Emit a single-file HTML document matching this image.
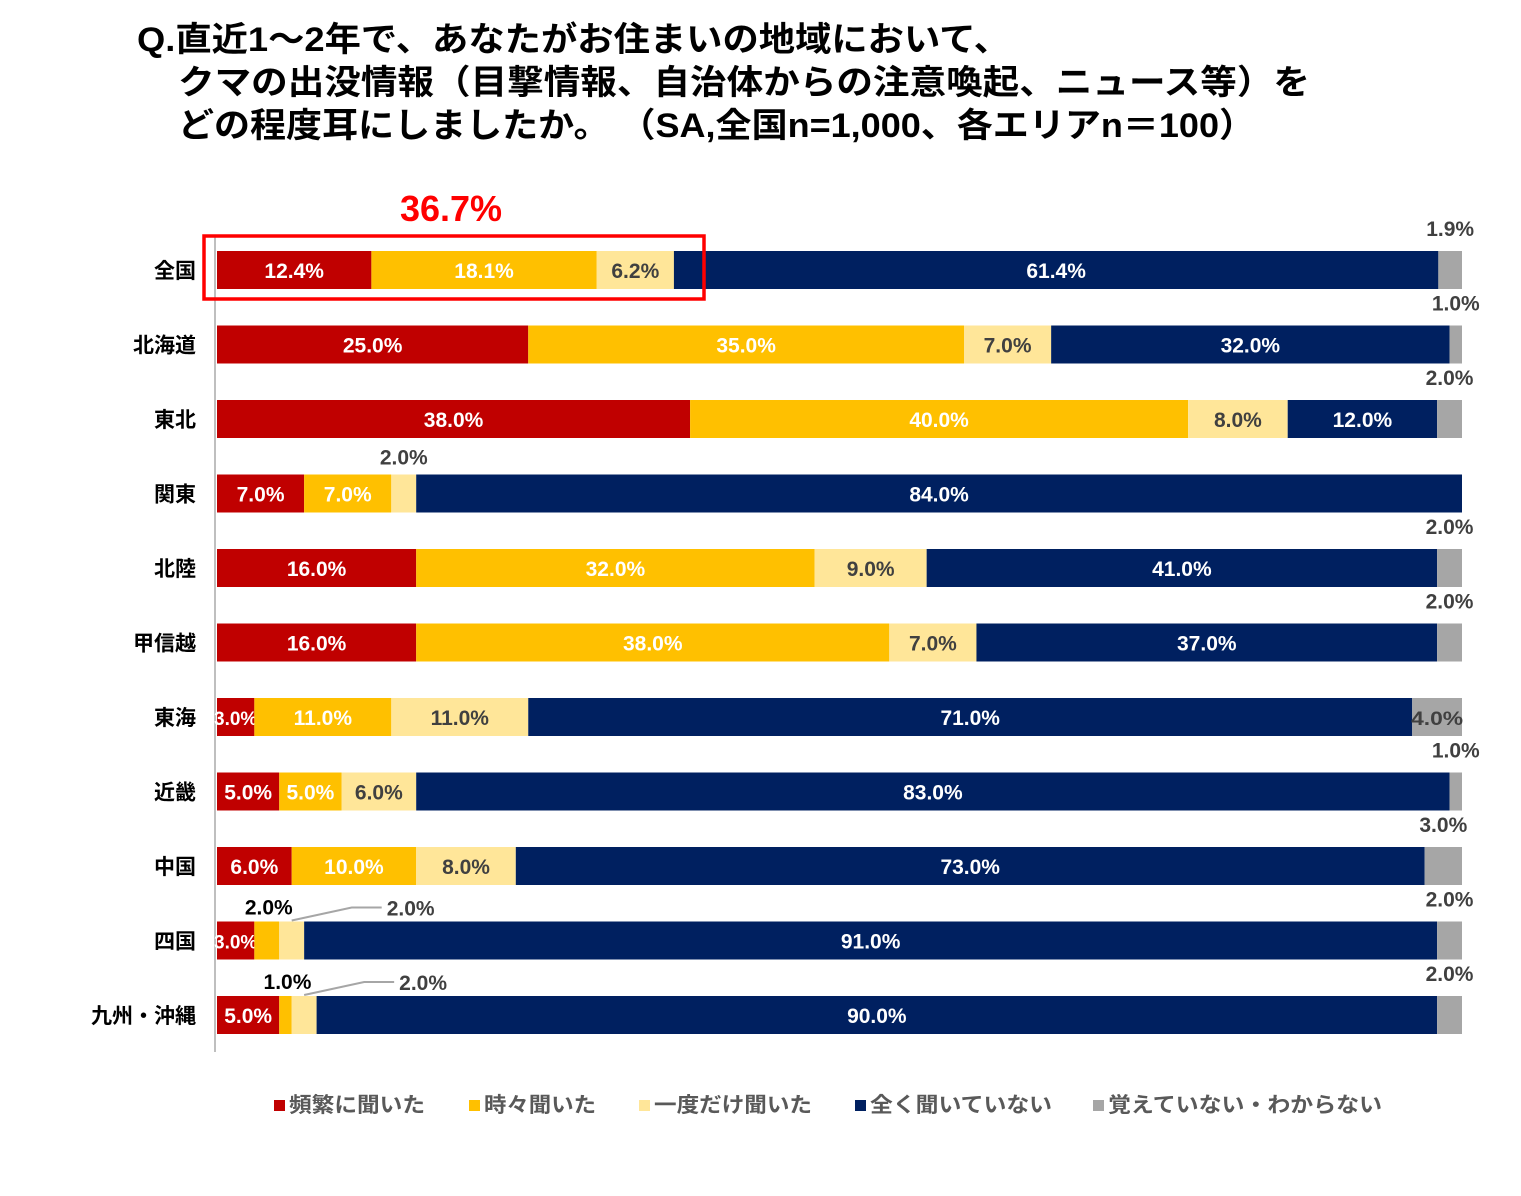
<!DOCTYPE html>
<html><head><meta charset="utf-8">
<style>
html,body{margin:0;padding:0;background:#fff;}
body{width:1521px;height:1191px;overflow:hidden;font-family:"Liberation Sans","Noto Sans CJK JP",sans-serif;}
svg text{font-family:"Liberation Sans","Noto Sans CJK JP",sans-serif;font-weight:bold;}
</style></head>
<body>
<svg id="chart" width="1521" height="1191" xmlns="http://www.w3.org/2000/svg">
<g font-size="34" fill="#000">
<text x="137" y="51" textLength="873" lengthAdjust="spacingAndGlyphs">Q.直近1～2年で、あなたがお住まいの地域において、</text>
<text x="178" y="94" textLength="1132" lengthAdjust="spacingAndGlyphs">クマの出没情報（目撃情報、自治体からの注意喚起、ニュース等）を</text>
<text x="178" y="137" textLength="1077" lengthAdjust="spacingAndGlyphs">どの程度耳にしましたか。 （SA,全国n=1,000、各エリアn＝100）</text>
</g>
<line x1="215" y1="236" x2="215" y2="1052" stroke="#BFBFBF" stroke-width="2"/>
<g id="bars"></g>
<rect x="204" y="236" width="500" height="63" fill="none" stroke="#FF0000" stroke-width="3.5"/>
<text x="451" y="221" text-anchor="middle" font-size="36" fill="#FF0000">36.7%</text>
<g id="legend"></g>
</svg>
<script>
const categories=["全国","北海道","東北","関東","北陸","甲信越","東海","近畿","中国","四国","九州・沖縄"];
const seriesNames=["頻繁に聞いた","時々聞いた","一度だけ聞いた","全く聞いていない","覚えていない・わからない"];
const sFrequent=[12.4,25.0,38.0,7.0,16.0,16.0,3.0,5.0,6.0,3.0,5.0];
const sSometimes=[18.1,35.0,40.0,7.0,32.0,38.0,11.0,5.0,10.0,2.0,1.0];
const sOnce=[6.2,7.0,8.0,2.0,9.0,7.0,11.0,6.0,8.0,2.0,2.0];
const sNever=[61.4,32.0,12.0,84.0,41.0,37.0,71.0,83.0,73.0,91.0,90.0];
const sUnknown=[1.9,1.0,2.0,0.0,2.0,2.0,4.0,1.0,3.0,2.0,2.0];
const series=[sFrequent,sSometimes,sOnce,sNever,sUnknown];
const colors=["#C00000","#FFC000","#FFE699","#002060","#A6A6A6"];
const textColors=["#fff","#fff","#404040","#fff","#404040"];
const NS="http://www.w3.org/2000/svg";
const x0=217,plotW=1245,rowTop=270,rowStep=74.5,barH=38;
const xs=v=>v/100*plotW;
const ys=i=>rowTop+i*rowStep;
const g=document.getElementById('bars');
function mk(tag,attrs,txt){const e=document.createElementNS(NS,tag);for(const k in attrs)e.setAttribute(k,attrs[k]);if(txt!==undefined)e.textContent=txt;return e;}
categories.forEach((c,i)=>{
  const cy=ys(i);
  const lab=mk('text',{x:196,y:cy+8,'text-anchor':'end','font-size':21,fill:'#000'},c);
  
  
  g.appendChild(lab);
  let acc=0;
  series.forEach((s,j)=>{
    const v=s[i];
    const x=x0+xs(acc),w=xs(v);
    acc+=v;
    if(v<=0)return;
    const r=mk('rect',{x:x,y:cy-barH/2,width:w,height:barH,fill:colors[j]});
    
    
    g.appendChild(r);
    const txt=v.toFixed(1)+'%';
    let t;
    if(j===4 && v<4){
      t=mk('text',{x:x+w/2,y:cy-34,'text-anchor':'middle','font-size':21,fill:'#404040'},txt);
    }else if((j===1||j===2) && v<=2.5){
      if(i===3){
        t=mk('text',{x:x+w/2,y:cy-29,'text-anchor':'middle','font-size':21,fill:'#404040'},txt);
      }else if(j===1){
        t=mk('text',{x:x+w/2+2,y:cy-26,'text-anchor':'middle','font-size':21,fill:'#000'},txt);
      }else{
        const lx=x+w/2;
        const ln=mk('polyline',{points:lx+','+(cy-20)+' '+(lx+60)+','+(cy-33)+' '+(lx+90)+','+(cy-33),fill:'none',stroke:'#A6A6A6','stroke-width':2});
        
        
        g.appendChild(ln);
        t=mk('text',{x:lx+95,y:cy-25,'font-size':21,fill:'#404040'},txt);
      }
    }else{
      const fs=w<50?19:21;
      t=mk('text',{x:x+w/2,y:cy+8,'text-anchor':'middle','font-size':fs,fill:textColors[j]},txt);
      if(w<50){t.setAttribute('textLength',Math.min(w+6,52));t.setAttribute('lengthAdjust','spacingAndGlyphs');}
    }
    
    
    g.appendChild(t);
  });
});
const leg=document.getElementById('legend');
const legX=[274,469,639,855,1093];
const legW=[136,112,158,182,274];
seriesNames.forEach((n,j)=>{
  const sq=mk('rect',{x:legX[j],y:1100,width:11,height:11,fill:colors[j]});
  
  
  leg.appendChild(sq);
  const t=mk('text',{x:legX[j]+15,y:1112,'font-size':21,fill:'#595959',textLength:legW[j],lengthAdjust:'spacingAndGlyphs'},n);
  
  
  leg.appendChild(t);
});
</script>
</body></html>
